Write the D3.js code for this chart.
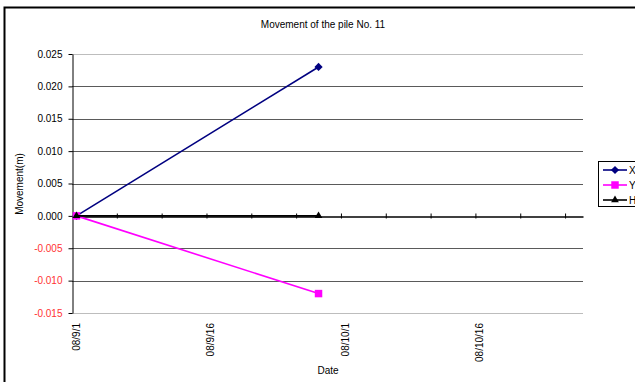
<!DOCTYPE html>
<html>
<head>
<meta charset="utf-8">
<script src="https://cdn.jsdelivr.net/npm/d3@7"></script>
<style>
  html, body { margin: 0; padding: 0; background: #fff; }
  svg { display: block; }
  text { font-family: "Liberation Sans", Arial, sans-serif; }
</style>
</head>
<body>
<svg id="chart" width="635" height="382"></svg>
<script>
// Survey dates and measured movement (m) of pile No. 11
const dates = ["2008-09-01", "2008-09-28"];
const seriesX = [0.000, 0.023];
const seriesY = [0.000, -0.012];
const seriesH = [0.000, 0.000];
const seriesNames = ["X", "Y", "H"];
const yTicks = [-0.015, -0.010, -0.005, 0.000, 0.005, 0.010, 0.015, 0.020, 0.025];
const xLabelDates = ["2008-09-01", "2008-09-16", "2008-10-01", "2008-10-16"];
const xLabelText = ["08/9/1", "08/9/16", "08/10/1", "08/10/16"];
const axisStart = "2008-09-01";
const axisEnd = "2008-10-28";

const svg = d3.select("#chart");
const parse = d3.utcParse("%Y-%m-%d");
const halfDay = 12 * 3600 * 1000;

const plot = { left: 72, right: 583, top: 54, bottom: 313 };

const x = d3.scaleUtc()
  .domain([parse(axisStart), parse(axisEnd)])
  .range([plot.left, plot.right]);
const y = d3.scaleLinear()
  .domain([-0.015, 0.025])
  .range([plot.bottom, plot.top]);

// Chart frame
svg.append("path")
  .attr("d", `M4.5,382 V7.5 H635`)
  .attr("fill", "none").attr("stroke", "#000").attr("stroke-width", 2);

// Title
svg.append("text")
  .attr("x", 323).attr("y", 28)
  .attr("text-anchor", "middle")
  .attr("font-size", 10)
  .text("Movement of the pile No. 11");

// Horizontal gridlines
svg.append("g").selectAll("line")
  .data(yTicks.filter(v => v !== 0))
  .join("line")
  .attr("x1", plot.left).attr("x2", plot.right)
  .attr("y1", d => Math.round(y(d)) + 0.5).attr("y2", d => Math.round(y(d)) + 0.5)
  .attr("stroke", d => (d === -0.015 || d === 0.025) ? "#bdbdbd" : "#5a5a5a")
  .attr("stroke-width", 1);

// Y axis
const yAxis = svg.append("g")
  .attr("transform", `translate(${plot.left + 0.5},0)`)
  .call(d3.axisLeft(y).tickValues(yTicks).tickFormat(d3.format(".3f")).tickSize(4).tickSizeOuter(0));
yAxis.select(".domain").attr("stroke", "#000");
yAxis.selectAll(".tick line").attr("stroke", "#000");
yAxis.selectAll(".tick text")
  .attr("font-size", 10)
  .attr("x", -10)
  .attr("fill", d => d < 0 ? "#ff3333" : "#000")
  .text(d => d < 0 ? "-" + d3.format(".3f")(-d) : d3.format(".3f")(d));
yAxis.attr("font-family", null);

// X axis along zero, ticks every 5 days
const zeroY = Math.round(y(0)) + 0.5;
const xAxis = svg.append("g")
  .attr("transform", `translate(0,${zeroY})`)
  .call(d3.axisTop(x).ticks(d3.utcDay.every(5)).tickFormat("").tickSize(3).tickSizeOuter(0));
xAxis.select(".domain").attr("stroke", "#000").attr("stroke-width", 1.3);
xAxis.selectAll(".tick line").attr("stroke", "#000").attr("y2", 2).attr("y1", -3)
  .filter(d => +d === +x.domain()[0]).remove();

// X tick labels (rotated, centred on each day)
svg.append("g").selectAll("text")
  .data(xLabelDates.map((d, i) => ({ d: parse(d), t: xLabelText[i] })))
  .join("text")
  .attr("transform", d => `translate(${x(new Date(+d.d + halfDay)) + 3.5},323) rotate(-90)`)
  .attr("text-anchor", "end")
  .attr("font-size", 10)
  .text(d => d.t);

// Axis titles
svg.append("text")
  .attr("transform", "translate(23,184) rotate(-90)")
  .attr("text-anchor", "middle")
  .attr("font-size", 10)
  .text("Movement(m)");
svg.append("text")
  .attr("x", 328).attr("y", 374)
  .attr("text-anchor", "middle")
  .attr("font-size", 10)
  .text("Date");

// Series (diamond = square turned 45°)
const series = [
  { name: seriesNames[0], values: seriesX, color: "#000080", symbol: d3.symbolSquare, size: 34, rot: 45 },
  { name: seriesNames[1], values: seriesY, color: "#ff00ff", symbol: d3.symbolSquare, size: 56, rot: 0 },
  { name: seriesNames[2], values: seriesH, color: "#000000", symbol: d3.symbolTriangle, size: 26, rot: 0 }
];
const px = d => x(new Date(+parse(d) + halfDay));
const line = d3.line().x(d => px(d.date)).y(d => y(d.v));

series.forEach(s => {
  const pts = dates.map((d, i) => ({ date: d, v: s.values[i] }));
  svg.append("path")
    .datum(pts)
    .attr("d", line)
    .attr("fill", "none")
    .attr("stroke", s.color)
    .attr("stroke-width", 1.6);
  svg.append("g").selectAll("path")
    .data(pts)
    .join("path")
    .attr("transform", d => `translate(${px(d.date)},${y(d.v)}) rotate(${s.rot})`)
    .attr("d", d3.symbol(s.symbol, s.size))
    .attr("fill", s.color);
});

// Legend
const legend = svg.append("g");
legend.append("rect")
  .attr("x", 598.5).attr("y", 161.5).attr("width", 50).attr("height", 45)
  .attr("fill", "#fff").attr("stroke", "#000").attr("stroke-width", 1);
series.forEach((s, i) => {
  const ly = 170 + i * 15;
  legend.append("line")
    .attr("x1", 603).attr("x2", 627).attr("y1", ly).attr("y2", ly)
    .attr("stroke", s.color).attr("stroke-width", 1.6);
  legend.append("path")
    .attr("transform", `translate(615,${ly}) rotate(${s.rot})`)
    .attr("d", d3.symbol(s.symbol, s.size))
    .attr("fill", s.color);
  legend.append("text")
    .attr("x", 629).attr("y", ly + 3.5)
    .attr("font-size", 10)
    .text(s.name);
});
</script>
</body>
</html>
